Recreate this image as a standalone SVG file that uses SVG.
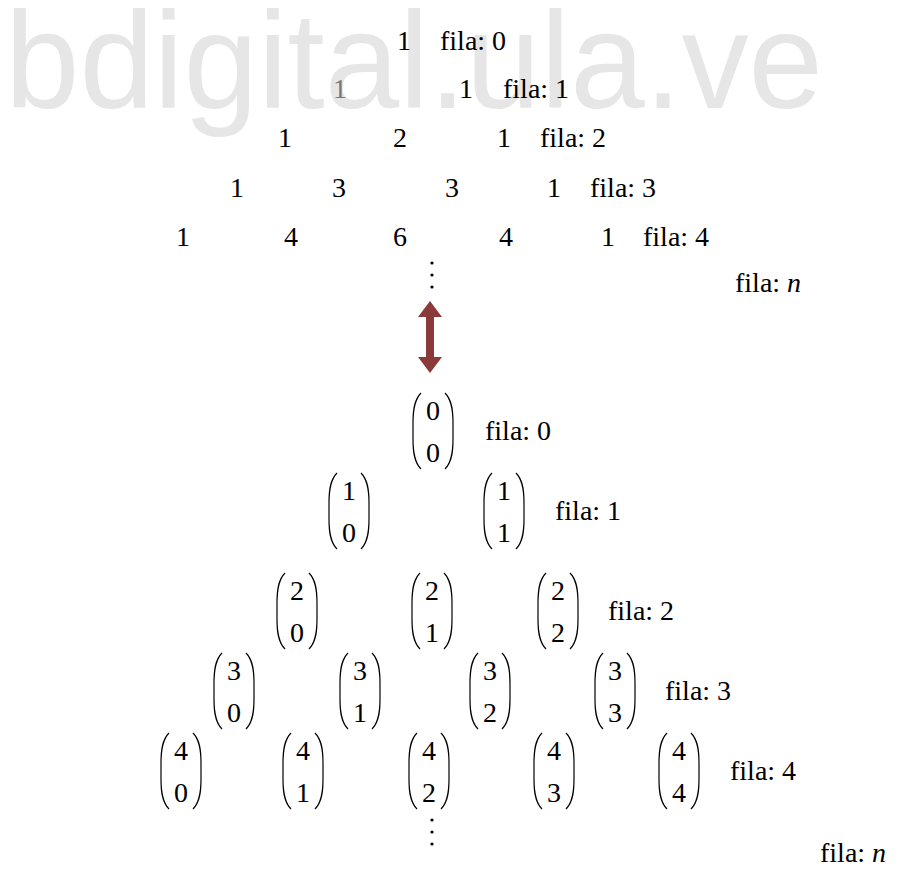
<svg xmlns="http://www.w3.org/2000/svg" width="902" height="869" viewBox="0 0 902 869">
<style>
.wm{font-family:"Liberation Sans",Arial,sans-serif;font-size:138px;fill:#e6e6e6}
.t{font-family:"Liberation Serif","Times New Roman",serif;font-size:28px;fill:#000}
.b{font-family:"Liberation Serif","Times New Roman",serif;font-size:28px;fill:#000}
.l{font-family:"Liberation Serif","Times New Roman",serif;font-size:28px;fill:#000}
.mid{text-anchor:middle}
.p{fill:none;stroke:#000;stroke-width:1.2}
</style>
<defs>
<g id="par">
<path class="p" d="M-12,-38 C-19,-31 -20,-20 -20,-8 L-20,8 C-20,20 -19,31 -12,38"/>
<path class="p" d="M12,-38 C19,-31 20,-20 20,-8 L20,8 C20,20 19,31 12,38"/>
</g>
<g id="dots">
<circle cx="0" cy="0" r="1.6" fill="#000"/>
<circle cx="0" cy="12" r="1.6" fill="#000"/>
<circle cx="0" cy="24" r="1.6" fill="#000"/>
</g>
</defs>
<rect width="902" height="869" fill="#fff"/>
<text class="wm" x="5" y="108" textLength="818" lengthAdjust="spacingAndGlyphs">bdigital.ula.ve</text>

<g id="pascal" font-family="Liberation Serif, serif">
<g id="r0"><text class="t mid" x="404" y="50">1</text><text class="t" x="440" y="50">fila: 0</text></g>
<g id="r1"><text class="t mid" x="340" y="98" style="fill:#777">1</text><text class="t mid" x="466" y="98">1</text><text class="t" x="503" y="98">fila: 1</text></g>
<g id="r2"><text class="t mid" x="285" y="147">1</text><text class="t mid" x="400" y="147">2</text><text class="t mid" x="504" y="147">1</text><text class="t" x="540" y="147">fila: 2</text></g>
<g id="r3"><text class="t mid" x="237" y="197">1</text><text class="t mid" x="339" y="197">3</text><text class="t mid" x="452" y="197">3</text><text class="t mid" x="554" y="197">1</text><text class="t" x="590" y="197">fila: 3</text></g>
<g id="r4"><text class="t mid" x="183" y="246">1</text><text class="t mid" x="291" y="246">4</text><text class="t mid" x="400" y="246">6</text><text class="t mid" x="506" y="246">4</text><text class="t mid" x="608" y="246">1</text><text class="t" x="643" y="246">fila: 4</text></g>
<g id="rn"><use href="#dots" x="432" y="263"/><text class="t" x="735" y="292">fila: <tspan font-style="italic">n</tspan></text></g>
</g>

<g id="connectors">
<path d="M430,301 L442,317 L434,317 L434,357 L442,357 L430,373 L418,357 L426,357 L426,317 L418,317 Z" fill="#8b3a3a"/>
</g>

<g id="binom" font-family="Liberation Serif, serif">
<g id="b0"><use href="#par" x="433" y="431"/><text class="b mid" x="433" y="420">0</text><text class="b mid" x="433" y="462">0</text><text class="l" x="485" y="440">fila: 0</text></g>
<g id="b1">
<use href="#par" x="349" y="511"/><text class="b mid" x="349" y="500">1</text><text class="b mid" x="349" y="542">0</text>
<use href="#par" x="504" y="511"/><text class="b mid" x="504" y="500">1</text><text class="b mid" x="504" y="542">1</text>
<text class="l" x="555" y="520">fila: 1</text></g>
<g id="b2">
<use href="#par" x="297" y="611"/><text class="b mid" x="297" y="600">2</text><text class="b mid" x="297" y="642">0</text>
<use href="#par" x="432" y="611"/><text class="b mid" x="432" y="600">2</text><text class="b mid" x="432" y="642">1</text>
<use href="#par" x="558" y="611"/><text class="b mid" x="558" y="600">2</text><text class="b mid" x="558" y="642">2</text>
<text class="l" x="608" y="620">fila: 2</text></g>
<g id="b3">
<use href="#par" x="234" y="691"/><text class="b mid" x="234" y="680">3</text><text class="b mid" x="234" y="722">0</text>
<use href="#par" x="360" y="691"/><text class="b mid" x="360" y="680">3</text><text class="b mid" x="360" y="722">1</text>
<use href="#par" x="490" y="691"/><text class="b mid" x="490" y="680">3</text><text class="b mid" x="490" y="722">2</text>
<use href="#par" x="615" y="691"/><text class="b mid" x="615" y="680">3</text><text class="b mid" x="615" y="722">3</text>
<text class="l" x="665" y="700">fila: 3</text></g>
<g id="b4">
<use href="#par" x="181" y="771"/><text class="b mid" x="181" y="760">4</text><text class="b mid" x="181" y="802">0</text>
<use href="#par" x="303" y="771"/><text class="b mid" x="303" y="760">4</text><text class="b mid" x="303" y="802">1</text>
<use href="#par" x="429" y="771"/><text class="b mid" x="429" y="760">4</text><text class="b mid" x="429" y="802">2</text>
<use href="#par" x="554" y="771"/><text class="b mid" x="554" y="760">4</text><text class="b mid" x="554" y="802">3</text>
<use href="#par" x="679" y="771"/><text class="b mid" x="679" y="760">4</text><text class="b mid" x="679" y="802">4</text>
<text class="l" x="730" y="780">fila: 4</text></g>
<g id="bn"><use href="#dots" x="432" y="820"/><text class="l" x="820" y="862">fila: <tspan font-style="italic">n</tspan></text></g>
</g>
</svg>
